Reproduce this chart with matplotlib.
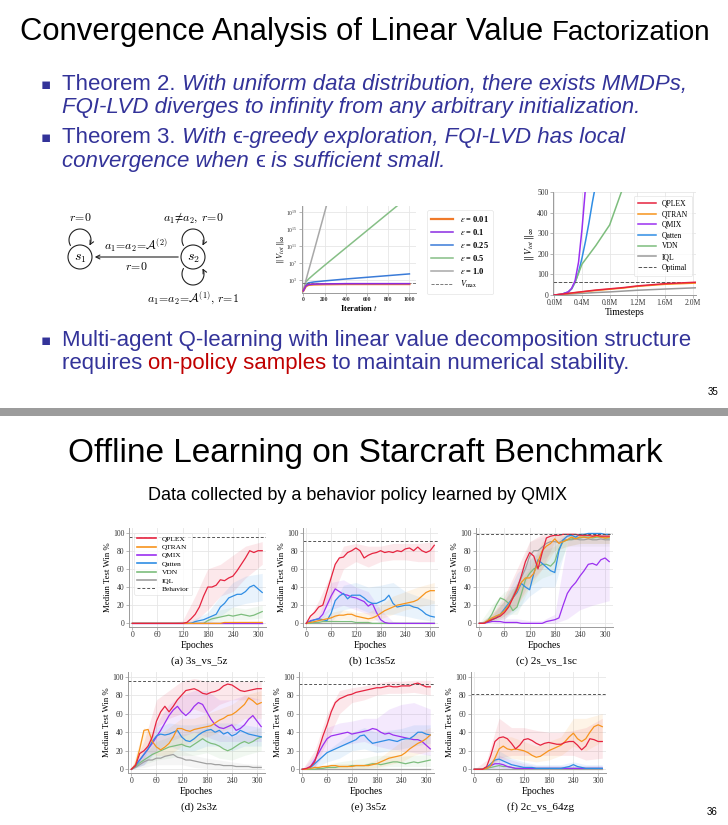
"""Two lecture slides (linear value factorization / offline SMAC) redrawn with matplotlib."""
import matplotlib
import numpy as np

matplotlib.use("Agg")
import matplotlib.pyplot as plt  # noqa: E402
from matplotlib.lines import Line2D  # noqa: E402
from matplotlib.patches import Circle, FancyArrowPatch, Rectangle  # noqa: E402
from matplotlib.path import Path  # noqa: E402

W, H = 728, 825
SANS = ["Liberation Sans", "DejaVu Sans"]
SERIF = ["Liberation Serif", "DejaVu Serif"]
BLUE = "#333399"
RED = "#c00000"

# ── data: epsilon-greedy divergence (log10 of ||V_tot||) ──────────────────────
EPS_ITERS = [0, 25, 50, 100, 200, 400, 600, 800, 1000]
EPS_LABELS = ["0.01", "0.1", "0.25", "0.5", "1.0"]
LOG_EPS_001 = [0.5, 1.6, 1.9, 2.0, 2.05, 2.1, 2.1, 2.1, 2.1]
LOG_EPS_01 = [0.5, 1.7, 2.0, 2.1, 2.15, 2.2, 2.2, 2.2, 2.2]
LOG_EPS_025 = [0.5, 2.0, 2.4, 2.6, 2.85, 3.3, 3.7, 4.1, 4.5]
LOG_EPS_05 = [0.5, 2.6, 3.3, 4.4, 6.5, 10.6, 14.7, 18.8, 22.9]
LOG_EPS_10 = [0.5, 3.0, 5.3, 9.8, 18.9, 37.0, 55.0, 73.0, 91.0]
LOG_VMAX = 2.4

# ── data: ||V_tot|| vs timesteps (millions) ───────────────────────────────────
TS = [0, 0.1, 0.2, 0.25, 0.3, 0.35, 0.4, 0.45, 0.5, 0.6, 0.8, 1.0, 1.2, 1.6, 2.05]
TS_QPLEX = [0, 4, 8, 10, 12, 14, 16, 18, 20, 24, 30, 36, 44, 55, 62]
TS_QTRAN = [0, 3, 7, 9, 11, 13, 15, 17, 19, 22, 28, 34, 42, 52, 58]
TS_IQL = [0, 2, 4, 5, 6, 7, 8, 9, 10, 12, 15, 19, 23, 29, 35]
TS_QMIX_T = [0, 0.1, 0.2, 0.25, 0.3, 0.35, 0.4, 0.45]
TS_QMIX = [0, 3, 15, 32, 70, 160, 320, 520]
TS_QATTEN_T = [0, 0.1, 0.2, 0.25, 0.3, 0.35, 0.4, 0.45, 0.5, 0.55, 0.6]
TS_QATTEN = [0, 3, 14, 30, 62, 110, 180, 260, 350, 450, 540]
TS_VDN_T = [0, 0.1, 0.2, 0.25, 0.3, 0.4, 0.6, 0.8, 0.97]
TS_VDN = [0, 3, 14, 30, 62, 150, 240, 340, 500]
TS_OPTIMAL = 65

# ── data: offline SMAC median test win % ──────────────────────────────────────
EPOCHS = list(range(0, 311, 10))
BAND_EPOCHS = [0, 30, 60, 90, 120, 150, 180, 210, 240, 270, 310]
METHODS = ["QPLEX", "QTRAN", "QMIX", "Qatten", "VDN", "IQL"]
ZEROS = [0] * 32

A_QPLEX = [0, 0, 0, 0, 0, 0, 0, 0, 0, 0, 0, 0, 0, 1, 5, 10, 18, 30, 40, 40, 42, 48, 47, 50, 52, 58, 65, 72, 80, 78, 80, 80]
A_QTRAN = [0, 0, 0, 0, 0, 0, 0, 0, 0, 0, 0, 0, 0, 0, 0, 0, 0, 0, 0, 0, 0, 0, 1, 1, 1, 1, 1, 1, 1, 1, 1, 1]
A_QMIX = ZEROS
A_QATTEN = [0, 0, 0, 0, 0, 0, 0, 0, 0, 0, 0, 0, 0, 0, 0, 2, 3, 4, 6, 8, 10, 18, 22, 28, 30, 32, 32, 35, 40, 42, 38, 34]
A_VDN = [0, 0, 0, 0, 0, 0, 0, 0, 0, 0, 0, 0, 0, 0, 0, 0, 0, 0, 3, 5, 6, 7, 8, 9, 8, 9, 10, 9, 8, 9, 11, 13]
A_IQL = ZEROS
A_BEHAVIOR = 95
A_BANDS = {
    "QPLEX": ([0, 0, 0, 0, 0, 2, 15, 30, 35, 50, 65], [0, 0, 0, 0, 3, 30, 60, 65, 75, 85, 90]),
    "Qatten": ([0, 0, 0, 0, 0, 0, 0, 8, 18, 22, 25], [0, 0, 0, 0, 0, 5, 12, 30, 45, 52, 55]),
    "VDN": ([0, 0, 0, 0, 0, 0, 0, 2, 4, 4, 6], [0, 0, 0, 0, 0, 0, 5, 15, 18, 16, 20]),
}

B_QPLEX = [0, 8, 12, 18, 20, 35, 50, 65, 72, 73, 78, 80, 83, 80, 72, 75, 77, 78, 80, 78, 79, 78, 80, 79, 82, 83, 80, 84, 80, 78, 80, 86]
B_QTRAN = [0, 1, 2, 3, 4, 5, 6, 8, 9, 9, 10, 10, 8, 7, 6, 5, 6, 8, 11, 14, 16, 18, 20, 21, 22, 23, 24, 26, 30, 34, 36, 36]
B_QMIX = [0, 3, 4, 5, 10, 20, 30, 38, 35, 32, 31, 29, 28, 26, 24, 19, 22, 12, 4, 1, 0, 0, 0, 0, 0, 0, 0, 0, 0, 0, 0, 0]
B_QATTEN = [0, 2, 4, 5, 4, 3, 11, 25, 30, 33, 27, 31, 31, 31, 28, 24, 22, 22, 24, 26, 31, 22, 18, 19, 20, 20, 18, 17, 14, 10, 8, 7]
B_VDN = [0, 0, 1, 1, 2, 2, 2, 2, 2, 2, 2, 2, 1, 1, 1, 1, 0, 0, 0, 0, 0, 0, 0, 0, 0, 0, 0, 0, 0, 0, 0, 0]
B_IQL = ZEROS
B_BEHAVIOR = 91
B_BANDS = {
    "QPLEX": ([0, 8, 25, 60, 68, 62, 68, 70, 70, 68, 68], [0, 25, 55, 85, 88, 85, 85, 88, 88, 88, 90]),
    "QMIX": ([0, 2, 15, 20, 15, 10, 0, 0, 0, 0, 0], [0, 8, 45, 48, 40, 35, 15, 2, 0, 0, 0]),
    "Qatten": ([0, 2, 2, 15, 18, 12, 10, 10, 8, 5, 2], [0, 8, 18, 42, 45, 40, 42, 45, 35, 30, 25]),
    "QTRAN": ([0, 1, 2, 5, 3, 2, 5, 10, 15, 18, 22], [0, 5, 12, 15, 12, 12, 20, 30, 35, 40, 45]),
}

C_QPLEX = [0, 0, 2, 4, 6, 8, 12, 18, 28, 38, 52, 68, 78, 74, 60, 78, 94, 96, 97, 97, 98, 98, 98, 98, 97, 97, 97, 96, 97, 96, 96, 96]
C_QTRAN = [0, 0, 3, 6, 8, 10, 14, 20, 28, 36, 45, 50, 50, 55, 68, 80, 85, 88, 93, 88, 90, 92, 95, 93, 95, 95, 94, 95, 96, 95, 94, 95]
C_QMIX = [0, 0, 1, 2, 2, 2, 1, 1, 1, 1, 0, 0, 0, 0, 0, 0, 2, 3, 4, 6, 20, 33, 40, 45, 52, 58, 65, 66, 64, 70, 72, 68]
C_QATTEN = [0, 0, 2, 4, 6, 10, 16, 22, 28, 34, 44, 40, 37, 55, 70, 66, 62, 58, 56, 80, 92, 96, 97, 95, 98, 98, 99, 99, 99, 99, 98, 98]
C_VDN = [0, 0, 3, 10, 20, 28, 26, 22, 14, 18, 32, 48, 55, 60, 62, 65, 65, 63, 68, 82, 90, 92, 93, 94, 94, 95, 95, 94, 95, 95, 94, 94]
C_IQL = [0, 0, 2, 5, 8, 10, 14, 20, 30, 40, 50, 60, 74, 80, 80, 84, 88, 90, 90, 89, 92, 92, 92, 93, 92, 92, 93, 92, 92, 93, 92, 92]
C_BEHAVIOR = 98
C_BANDS = {
    "QMIX": ([0, 0, 0, 0, 0, 0, 0, 5, 15, 20, 25], [0, 0, 5, 5, 3, 3, 10, 90, 95, 95, 95]),
    "QPLEX": ([0, 2, 5, 20, 45, 60, 90, 95, 95, 95, 94], [0, 10, 30, 60, 90, 98, 99, 99, 99, 99, 99]),
    "Qatten": ([0, 2, 5, 15, 30, 40, 40, 90, 94, 95, 95], [0, 8, 25, 55, 70, 85, 90, 99, 99, 99, 99]),
    "VDN": ([0, 5, 10, 10, 40, 50, 55, 85, 88, 88, 88], [0, 20, 35, 40, 70, 80, 85, 98, 98, 98, 98]),
    "QTRAN": ([0, 2, 8, 20, 40, 60, 80, 85, 88, 88, 88], [0, 10, 25, 45, 60, 90, 97, 98, 99, 99, 99]),
    "IQL": ([0, 2, 8, 20, 55, 70, 80, 85, 85, 85, 85], [0, 10, 25, 45, 90, 95, 97, 97, 97, 97, 97]),
}

D_QPLEX = [0, 4, 17, 20, 25, 35, 52, 62, 68, 62, 68, 75, 80, 85, 86, 87, 85, 82, 81, 83, 84, 86, 90, 92, 91, 88, 85, 84, 85, 86, 87, 87]
D_QTRAN = [0, 5, 22, 42, 43, 30, 24, 21, 24, 28, 35, 44, 44, 42, 41, 43, 44, 45, 46, 47, 50, 53, 55, 58, 59, 62, 66, 70, 77, 74, 70, 72]
D_QMIX = [0, 5, 10, 16, 22, 28, 35, 42, 50, 58, 64, 68, 62, 58, 62, 68, 72, 70, 62, 54, 48, 45, 44, 46, 48, 42, 44, 48, 54, 58, 52, 46]
D_QATTEN = [0, 4, 10, 16, 22, 30, 36, 38, 37, 38, 40, 42, 35, 31, 30, 33, 37, 40, 42, 43, 40, 42, 38, 40, 36, 38, 42, 40, 38, 37, 36, 35]
D_VDN = [0, 3, 7, 10, 13, 16, 18, 20, 22, 24, 25, 26, 27, 25, 24, 27, 30, 33, 30, 28, 27, 25, 22, 20, 22, 25, 28, 30, 28, 30, 33, 35]
D_IQL = [0, 2, 5, 8, 10, 10, 12, 12, 14, 15, 16, 13, 12, 10, 10, 9, 8, 7, 6, 6, 5, 5, 4, 4, 4, 3, 3, 3, 3, 2, 2, 2]
D_BEHAVIOR = 95
D_BANDS = {
    "QPLEX": ([0, 10, 45, 55, 60, 65, 60, 70, 75, 75, 75], [0, 30, 75, 85, 95, 98, 95, 95, 95, 95, 95]),
    "QMIX": ([0, 5, 20, 30, 35, 40, 35, 30, 30, 30, 30], [0, 20, 50, 70, 80, 85, 85, 75, 75, 80, 75]),
    "Qatten": ([0, 5, 20, 25, 20, 20, 25, 25, 20, 25, 25], [0, 20, 45, 50, 48, 48, 50, 50, 50, 48, 45]),
    "VDN": ([0, 5, 10, 12, 15, 15, 18, 12, 10, 15, 20], [0, 15, 30, 35, 38, 40, 45, 38, 35, 40, 45]),
    "QTRAN": ([0, 20, 15, 15, 25, 30, 35, 40, 45, 55, 55], [0, 45, 35, 45, 55, 55, 60, 65, 70, 80, 85]),
    "IQL": ([0, 2, 5, 5, 5, 2, 1, 0, 0, 0, 0], [0, 10, 18, 20, 20, 15, 12, 10, 8, 6, 5]),
}

E_QPLEX = [0, 1, 3, 8, 22, 36, 48, 62, 72, 76, 78, 80, 81, 83, 84, 85, 86, 87, 88, 88, 89, 90, 89, 89, 90, 90, 90, 92, 93, 91, 89, 89]
E_QTRAN = [0, 0, 1, 2, 2, 3, 3, 4, 4, 3, 3, 3, 3, 4, 4, 4, 4, 5, 6, 8, 10, 12, 13, 14, 15, 18, 22, 25, 28, 30, 33, 37]
E_QMIX = [0, 0, 3, 10, 18, 26, 33, 36, 37, 38, 39, 40, 38, 39, 40, 41, 42, 44, 43, 40, 38, 39, 37, 36, 35, 34, 33, 32, 32, 30, 26, 22]
E_QATTEN = [0, 0, 2, 6, 10, 14, 18, 20, 22, 24, 26, 28, 30, 32, 36, 37, 32, 28, 29, 30, 31, 32, 31, 30, 32, 33, 33, 36, 40, 40, 38, 37]
E_VDN = [0, 0, 0, 0, 1, 1, 2, 2, 2, 3, 3, 3, 4, 4, 4, 4, 5, 6, 6, 5, 6, 7, 8, 8, 7, 6, 7, 8, 7, 8, 9, 10]
E_IQL = ZEROS
E_BEHAVIOR = 92
E_BANDS = {
    "QPLEX": ([0, 2, 30, 60, 72, 75, 80, 82, 82, 83, 80], [0, 20, 60, 85, 88, 90, 93, 95, 95, 96, 96]),
    "QMIX": ([0, 2, 20, 25, 28, 30, 25, 22, 20, 18, 15], [0, 15, 45, 50, 52, 55, 55, 65, 70, 72, 65]),
    "Qatten": ([0, 1, 8, 12, 20, 22, 18, 20, 22, 25, 28], [0, 8, 20, 30, 40, 45, 40, 42, 44, 48, 48]),
    "VDN": ([0, 0, 0, 0, 1, 1, 2, 3, 3, 3, 3], [0, 2, 5, 8, 10, 12, 15, 15, 14, 15, 16]),
    "QTRAN": ([0, 0, 0, 1, 1, 1, 2, 5, 8, 15, 20], [0, 2, 5, 6, 6, 6, 10, 20, 30, 38, 45]),
}

F_QPLEX = [0, 0, 0, 3, 15, 30, 34, 35, 33, 28, 22, 26, 32, 33, 31, 28, 26, 28, 29, 28, 27, 27, 29, 30, 30, 26, 21, 25, 33, 32, 30, 30]
F_QTRAN = [0, 0, 0, 1, 4, 12, 22, 25, 22, 21, 22, 21, 20, 18, 15, 13, 14, 17, 20, 22, 24, 26, 30, 35, 39, 33, 30, 33, 40, 46, 48, 46]
F_QMIX = [0, 0, 0, 2, 4, 6, 6, 5, 3, 2, 1, 1, 1, 1, 1, 1, 1, 1, 1, 1, 1, 1, 1, 1, 1, 1, 1, 1, 1, 1, 1, 1]
F_QATTEN = [0, 0, 0, 2, 6, 10, 11, 9, 7, 5, 4, 3, 2, 2, 2, 1, 1, 1, 1, 1, 1, 1, 2, 3, 5, 3, 2, 1, 1, 1, 1, 1]
F_VDN = [0, 0, 0, 1, 2, 3, 4, 3, 3, 2, 1, 1, 1, 1, 1, 1, 1, 1, 1, 1, 1, 1, 1, 1, 1, 1, 1, 1, 1, 1, 1, 1]
F_IQL = ZEROS
F_BEHAVIOR = 81
F_BANDS = {
    "QPLEX": ([0, 0, 12, 15, 15, 15, 15, 15, 15, 10, 12], [0, 10, 55, 45, 45, 42, 40, 40, 42, 45, 55]),
    "QTRAN": ([0, 0, 10, 12, 10, 8, 10, 15, 25, 20, 30], [0, 3, 35, 35, 30, 25, 30, 35, 55, 55, 60]),
    "Qatten": ([0, 0, 2, 0, 0, 0, 0, 0, 0, 0, 0], [0, 3, 20, 12, 8, 5, 5, 5, 8, 5, 5]),
    "QMIX": ([0, 0, 0, 0, 0, 0, 0, 0, 0, 0, 0], [0, 3, 15, 10, 6, 4, 4, 4, 4, 4, 4]),
}

COLORS = {"QPLEX": "#e6233f", "QTRAN": "#f7941d", "QMIX": "#9b30f0",
          "Qatten": "#2f8de4", "VDN": "#7dbd7d", "IQL": "#a0a0a0"}
EPS_COLORS = ["#f07a2a", "#8a2be2", "#3a7bd8", "#86bf86", "#a8a8a8"]
DRAW_ORDER = ["IQL", "VDN", "QMIX", "Qatten", "QTRAN", "QPLEX"]

plt.rcParams["font.family"] = SERIF
plt.rcParams["mathtext.fontset"] = "stix"

fig = plt.figure(figsize=(W / 100, H / 100), dpi=100)
bg = fig.add_axes([0, 0, 1, 1])
bg.set_xlim(0, W)
bg.set_ylim(H, 0)
bg.axis("off")
rend = fig.canvas.get_renderer()


def px_axes(left, top, right, bottom):
    return fig.add_axes([left / W, 1 - bottom / H, (right - left) / W, (bottom - top) / H])


def runs(x, y, parts, size):
    """Write differently styled pieces one after another on a baseline; return the end x."""
    for s, color, style in parts:
        t = bg.text(x, y, s, fontsize=size, color=color, style=style, family=SANS, va="baseline")
        x = bg.transData.inverted().transform(t.get_window_extent(rend).get_points())[1, 0]
    return x


def style_axes(ax, size=5.5):
    ax.set_facecolor("white")
    ax.grid(True, color="#e6e6e6", lw=0.6)
    ax.set_axisbelow(True)
    for side in ("top", "right"):
        ax.spines[side].set_visible(False)
    for side in ("left", "bottom"):
        ax.spines[side].set_color("#9a9a9a")
        ax.spines[side].set_linewidth(0.7)
    ax.tick_params(labelsize=size, length=2, width=0.5, color="#9a9a9a", pad=1.2, labelcolor="#333333")


# ── slide 35 text ─────────────────────────────────────────────────────────────
x_end = runs(20, 40, [("Convergence Analysis of Linear Value ", "black", "normal")], 22.3)
runs(x_end, 40, [("Factorization", "black", "normal")], 20)

BODY = 16
for yb in (90, 143, 346):
    bg.text(41, yb - 1, "▪", fontsize=11, color=BLUE, family="DejaVu Sans", va="baseline")
runs(62, 90, [("Theorem 2.", BLUE, "normal"),
              (" With uniform data distribution, there exists MMDPs,", BLUE, "italic")], BODY)
runs(62, 113, [("FQI-LVD diverges to infinity from any arbitrary initialization.", BLUE, "italic")], BODY)
runs(62, 143, [("Theorem 3.", BLUE, "normal"), (" With ", BLUE, "italic"), ("ϵ", BLUE, "normal"),
               ("-greedy exploration, FQI-LVD has local", BLUE, "italic")], BODY)
runs(62, 167, [("convergence when ", BLUE, "italic"), ("ϵ", BLUE, "normal"),
               (" is sufficient small.", BLUE, "italic")], BODY)
runs(62, 346, [("Multi-agent Q-learning with linear value decomposition structure", BLUE, "normal")], BODY)
runs(62, 369, [("requires ", BLUE, "normal"), ("on-policy samples", RED, "normal"),
               (" to maintain numerical stability.", BLUE, "normal")], BODY)
bg.text(718, 395, "35", fontsize=7, family=SANS, ha="right", va="baseline")

# ── MDP diagram ───────────────────────────────────────────────────────────────
INK = "#222222"
for cx, lab in ((80, "$s_1$"), (193, "$s_2$")):
    bg.add_patch(Circle((cx, 257), 12, fill=False, lw=0.8, ec=INK))
    bg.text(cx, 258, lab, fontsize=10, ha="center", va="center", math_fontfamily="cm")


def loop(cx, cy, t1, t2, r=11):
    th = np.radians(np.linspace(t1, t2, 40))
    verts = np.column_stack([cx + r * np.cos(th), cy + r * np.sin(th)])
    bg.add_patch(FancyArrowPatch(path=Path(verts), arrowstyle="->", mutation_scale=7, lw=0.8, color=INK))


loop(80, 240, 150, 390)
loop(193, 240, 150, 390)
loop(193, 274, 210, -30)
bg.add_patch(FancyArrowPatch((181, 257), (92, 257), arrowstyle="->", mutation_scale=7, lw=0.8, color=INK))
for x, y, s in ((80, 221, "$r\\!=\\!0$"),
                (193, 221, "$a_1\\!\\neq\\! a_2,\\, r\\!=\\!0$"),
                (136, 250, "$a_1\\!=\\!a_2\\!=\\!\\mathcal{A}^{(2)}$"),
                (136, 270, "$r\\!=\\!0$"),
                (193, 302, "$a_1\\!=\\!a_2\\!=\\!\\mathcal{A}^{(1)},\\, r\\!=\\!1$")):
    bg.text(x, y, s, fontsize=8.5, ha="center", va="baseline", math_fontfamily="cm")

# ── epsilon divergence plot ───────────────────────────────────────────────────
ax = px_axes(302, 206, 416, 293)
eps_series = [LOG_EPS_001, LOG_EPS_01, LOG_EPS_025, LOG_EPS_05, LOG_EPS_10]
handles = []
for lab, ys, c, lw in zip(EPS_LABELS, eps_series, EPS_COLORS, [1.6, 1.1, 1.1, 1.1, 1.1]):
    handles.append(ax.plot(EPS_ITERS, 10.0 ** np.array(ys), color=c, lw=lw,
                           label=r"$\varepsilon$ = " + lab)[0])
handles.append(ax.axhline(10 ** LOG_VMAX, ls="--", color="#666666", lw=0.6, label=r"$V_{\max}$"))
for h in (handles[1], handles[0]):
    h.set_zorder(3)
ax.set_yscale("log")
ax.set_ylim(1, 10 ** 20.5)
ax.set_xlim(-12, 1062)
ax.set_yticks([1e3, 1e7, 1e11, 1e15, 1e19])
ax.minorticks_off()
ax.set_xticks(range(0, 1001, 200))
style_axes(ax, size=4)
for t in ax.get_xticklabels():
    t.set_fontweight("bold")
ax.set_xlabel("Iteration $t$", fontsize=6, fontweight="bold", labelpad=0.5)
ax.set_ylabel(r"$\|\,V_{tot}\,\|_{\infty}$", fontsize=6, labelpad=0.5)
leg = fig.legend(handles=handles, loc="upper left", bbox_to_anchor=(423 / W, 1 - 206 / H),
                 prop={"family": SERIF, "size": 6, "weight": "bold"}, labelspacing=0.35,
                 handlelength=2.6, borderpad=0.5, frameon=True, fancybox=True)
leg.get_frame().set_edgecolor("#dddddd")
leg.get_frame().set_linewidth(0.5)

# ── ||V_tot|| vs timesteps ────────────────────────────────────────────────────
ax = px_axes(553, 192, 696, 295)
h_qplex = ax.plot(TS, TS_QPLEX, color=COLORS["QPLEX"], lw=1.1, label="QPLEX", zorder=4)[0]
h_qtran = ax.plot(TS, TS_QTRAN, color=COLORS["QTRAN"], lw=1.1, label="QTRAN", zorder=3)[0]
h_qmix = ax.plot(TS_QMIX_T, TS_QMIX, color=COLORS["QMIX"], lw=1.1, label="QMIX", zorder=3)[0]
h_qatten = ax.plot(TS_QATTEN_T, TS_QATTEN, color=COLORS["Qatten"], lw=1.1, label="Qatten")[0]
h_vdn = ax.plot(TS_VDN_T, TS_VDN, color=COLORS["VDN"], lw=1.1, label="VDN")[0]
h_iql = ax.plot(TS, TS_IQL, color="#9a9a9a", lw=1.1, label="IQL")[0]
h_opt = ax.axhline(TS_OPTIMAL, ls="--", color="#555555", lw=0.7, label="Optimal")
ax.set_xlim(-0.02, 2.05)
ax.set_ylim(0, 500)
ax.set_xticks([0, 0.4, 0.8, 1.2, 1.6, 2.0])
ax.set_xticklabels(["0.0M", "0.4M", "0.8M", "1.2M", "1.6M", "2.0M"])
ax.set_yticks(range(0, 501, 100))
style_axes(ax, size=5.5)
ax.set_xlabel("Timesteps", fontsize=7, labelpad=0.5)
ax.set_ylabel(r"$\|\,V_{tot}\,\|_{\infty}$", fontsize=7, labelpad=1)
leg = ax.legend(handles=[h_qplex, h_qtran, h_qmix, h_qatten, h_vdn, h_iql, h_opt], loc="upper right",
                fontsize=5.5, labelspacing=0.35, handlelength=2.4, borderpad=0.5, fancybox=True)
leg.get_frame().set_edgecolor("#dddddd")
leg.get_frame().set_linewidth(0.5)

# ── slide separator ───────────────────────────────────────────────────────────
bg.add_patch(Rectangle((0, 408), W, 8, color="#9c9c9c", lw=0))

# ── slide 36 ──────────────────────────────────────────────────────────────────
bg.text(365, 462, "Offline Learning on Starcraft Benchmark", fontsize=24, family=SANS, ha="center",
        va="baseline", color="black")
bg.text(358, 500, "Data collected by a behavior policy learned by QMIX", fontsize=13, family=SANS,
        ha="center", va="baseline", color="black")
bg.text(718, 815, "36", fontsize=7, family=SANS, ha="right", va="baseline")


def win_panel(box, lines, bands, behavior, caption, legend=False):
    ax = px_axes(*box)
    for name, (lo, hi) in bands.items():
        ax.fill_between(BAND_EPOCHS, lo, hi, color=COLORS[name], alpha=0.1, lw=0)
    for name in DRAW_ORDER:
        ax.plot(EPOCHS, lines[name], color=COLORS[name], lw=0.9)
    ax.axhline(behavior, ls=(0, (3, 2)), color="#555555", lw=0.7)
    ax.set_xlim(-8, 319)
    ax.set_ylim(-4, 105)
    ax.set_xticks(range(0, 301, 60))
    ax.set_yticks(range(0, 101, 20))
    style_axes(ax)
    ax.set_xlabel("Epoches", fontsize=7, labelpad=1)
    ax.set_ylabel("Median Test Win %", fontsize=6.3, labelpad=1)
    cx = (box[0] + box[2]) / 2 + 2
    bg.text(cx, box[3] + 37, caption, fontsize=8, ha="center", va="baseline")
    if legend:
        hs = [Line2D([], [], color=COLORS[m], lw=1.2) for m in METHODS]
        hs.append(Line2D([], [], color="#555555", lw=0.7, ls=(0, (3, 2))))
        lg = ax.legend(hs, METHODS + ["Behavior"], loc="upper left", fontsize=5.3, labelspacing=0.3,
                       handlelength=2.6, borderpad=0.4, fancybox=True, bbox_to_anchor=(0.01, 0.99))
        lg.get_frame().set_edgecolor("#dddddd")
        lg.get_frame().set_linewidth(0.5)


def pack(qplex, qtran, qmix, qatten, vdn, iql):
    return {"QPLEX": qplex, "QTRAN": qtran, "QMIX": qmix, "Qatten": qatten, "VDN": vdn, "IQL": iql}


win_panel((129, 528, 266, 627), pack(A_QPLEX, A_QTRAN, A_QMIX, A_QATTEN, A_VDN, A_IQL), A_BANDS,
          A_BEHAVIOR, "(a) 3s_vs_5z", legend=True)
win_panel((303, 528, 438, 627), pack(B_QPLEX, B_QTRAN, B_QMIX, B_QATTEN, B_VDN, B_IQL), B_BANDS,
          B_BEHAVIOR, "(b) 1c3s5z")
win_panel((476, 528, 613, 627), pack(C_QPLEX, C_QTRAN, C_QMIX, C_QATTEN, C_VDN, C_IQL), C_BANDS,
          C_BEHAVIOR, "(c) 2s_vs_1sc")
win_panel((128, 672, 265, 773), pack(D_QPLEX, D_QTRAN, D_QMIX, D_QATTEN, D_VDN, D_IQL), D_BANDS,
          D_BEHAVIOR, "(d) 2s3z")
win_panel((299, 672, 434, 773), pack(E_QPLEX, E_QTRAN, E_QMIX, E_QATTEN, E_VDN, E_IQL), E_BANDS,
          E_BEHAVIOR, "(e) 3s5z")
win_panel((471, 672, 606, 773), pack(F_QPLEX, F_QTRAN, F_QMIX, F_QATTEN, F_VDN, F_IQL), F_BANDS,
          F_BEHAVIOR, "(f) 2c_vs_64zg")

fig.savefig("out.png", dpi=100)
